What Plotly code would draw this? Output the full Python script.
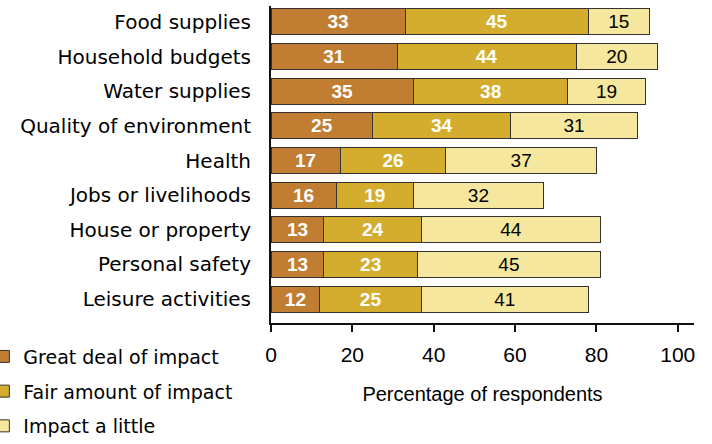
import plotly.graph_objects as go

# Survey categories, top to bottom
categories = [
    "Food supplies",
    "Household budgets",
    "Water supplies",
    "Quality of environment",
    "Health",
    "Jobs or livelihoods",
    "House or property",
    "Personal safety",
    "Leisure activities",
]

# Percentage of respondents per impact level
great_deal = [33, 31, 35, 25, 17, 16, 13, 13, 12]
fair_amount = [45, 44, 38, 34, 26, 19, 24, 23, 25]
a_little = [15, 20, 19, 31, 37, 32, 44, 45, 41]

series_names = ["Great deal of impact", "Fair amount of impact", "Impact a little"]
x_ticks = [0, 20, 40, 60, 80, 100]

colors = ["#C17E33", "#D5AD2E", "#F5E89E"]
label_fonts = [
    dict(family="Liberation Sans, Arial", size=19, color="white", weight="bold"),
    dict(family="Liberation Sans, Arial", size=19, color="white", weight="bold"),
    dict(family="Liberation Sans, Arial", size=19, color="black"),
]

fig = go.Figure()
for name, vals, col, tf in zip(series_names, [great_deal, fair_amount, a_little], colors, label_fonts):
    fig.add_trace(go.Bar(
        y=categories,
        x=vals,
        name=name,
        orientation="h",
        marker=dict(color=col, line=dict(color="#333333", width=1)),
        text=[str(v) for v in vals],
        textposition="inside",
        insidetextanchor="middle",
        textangle=0,
        textfont=tf,
        constraintext="none",
        legendgroup=name,
        hoverinfo="skip",
    ))

fig.update_layout(
    barmode="stack",
    bargap=0.25,
    width=712,
    height=444,
    margin=dict(l=271, r=18, t=6, b=121, autoexpand=False),
    paper_bgcolor="white",
    plot_bgcolor="white",
    font=dict(family="Liberation Sans, Arial", size=20, color="black"),
    showlegend=True,
    legend=dict(
        orientation="v",
        xref="paper", yref="paper",
        x=-0.68, y=-0.046,
        xanchor="left", yanchor="top",
        font=dict(family="DejaVu Sans", size=19, color="black"),
        traceorder="grouped",
        tracegroupgap=7,
        bgcolor="rgba(0,0,0,0)",
    ),
    xaxis=dict(
        range=[0, 104],
        tickvals=x_ticks,
        ticktext=[str(t) for t in x_ticks],
        ticks="outside",
        ticklen=7,
        tickwidth=2,
        tickcolor="#111111",
        ticklabelstandoff=5,
        showline=True,
        linecolor="#111111",
        linewidth=2,
        showgrid=False,
        zeroline=False,
        automargin=False,
        tickfont=dict(family="Liberation Sans, Arial", size=21),
        title=dict(text="Percentage of respondents",
                   font=dict(family="Liberation Sans, Arial", size=20),
                   standoff=22),
    ),
    yaxis=dict(
        categoryorder="array",
        categoryarray=categories,
        range=[8.69, -0.46],
        showline=True,
        linecolor="#111111",
        linewidth=2,
        showgrid=False,
        zeroline=False,
        automargin=False,
        ticks="outside",
        ticklen=14,
        tickcolor="rgba(0,0,0,0)",
        tickfont=dict(family="DejaVu Sans", size=20),
    ),
)

fig.write_html("out.html")
